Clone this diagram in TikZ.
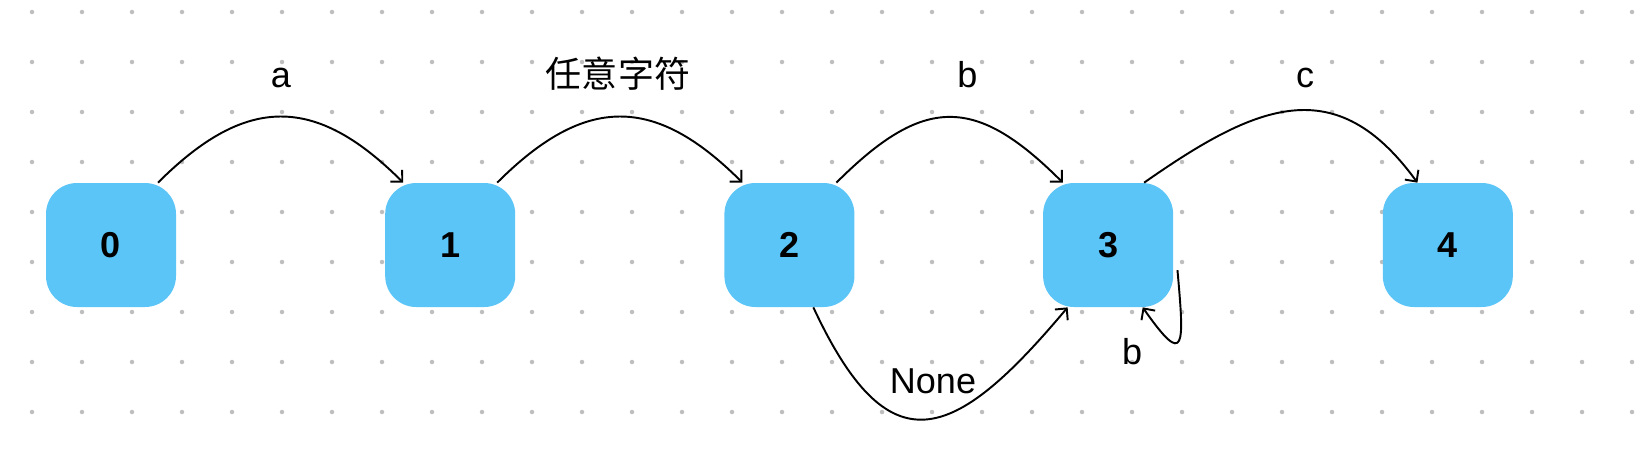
\documentclass[tikz,border=0pt]{standalone}
\usepackage{fontspec}
\setmainfont{Liberation Sans}
\newfontfamily\cjk{Noto Sans CJK SC}
\usepackage{tikz}
\usetikzlibrary{positioning}
\usetikzlibrary{arrows.meta}
\definecolor{statefill}{RGB}{91,197,248}
\definecolor{dotgray}{RGB}{190,190,190}

\begin{document}
\begin{tikzpicture}[
        state/.style={
        fill=statefill, rounded corners=0.62cm, minimum width=2.6cm,
        minimum height=2.48cm, inner sep=0pt,
        font=\fontsize{20.5pt}{24pt}\selectfont\bfseries
        },
        lbl/.style={anchor=base, inner sep=0pt, font=\fontsize{20.5pt}{24pt}\selectfont},
        edge/.style={line width=1.1pt, -{Straight Barb[length=4.8pt,width=9.5pt]}}
        ]
    \useasboundingbox (0,0) rectangle (32.8,-9.2);
    % dotted background
    \foreach \x in {0,...,32}
        \foreach \y in {0,...,8}
            \fill[dotgray] (0.64+\x,-0.24-\y) circle (0.045);

    \node[state] (s0) at (2.22,-4.9) {0};
    \node[state, right=4.17cm of s0] (s1) {1};
    \node[state, right=4.17cm of s1] (s2) {2};
    \node[state, right=3.76cm of s2] (s3) {3};
    \node[state, right=4.18cm of s3] (s4) {4};

    \draw[edge] (s0.53) to[out=45, in=135, looseness=1.3] (s1.127);
    \draw[edge] (s1.53) to[out=45, in=135, looseness=1.3] (s2.127);
    \draw[edge] (s2.53) to[out=45, in=135, looseness=1.4] (s3.126);
    \draw[edge] (s3.60) to[out=35, in=126, looseness=1.3] (s4.116);
    \draw[edge] (s2.-69) to[out=-65, in=-130, looseness=1.8] (s3.-123);
    \draw[edge] ([xshift=0.08cm]s3.-21) to[out=-85, in=-55, looseness=3.8] (s3.-61);

    \node[lbl] (la) at (5.62,-1.74) {a};
    \node[lbl] (lany) at (12.36,-1.74) {\cjk 任意字符};
    \node[lbl] (lb) at (19.35,-1.74) {b};
    \node[lbl] (lc) at (26.1,-1.74) {c};
    \node[lbl] (lnone) at (18.66,-7.86) {None};
    \node[lbl] (lloop) at (22.64,-7.28) {b};
\end{tikzpicture}
\end{document}
